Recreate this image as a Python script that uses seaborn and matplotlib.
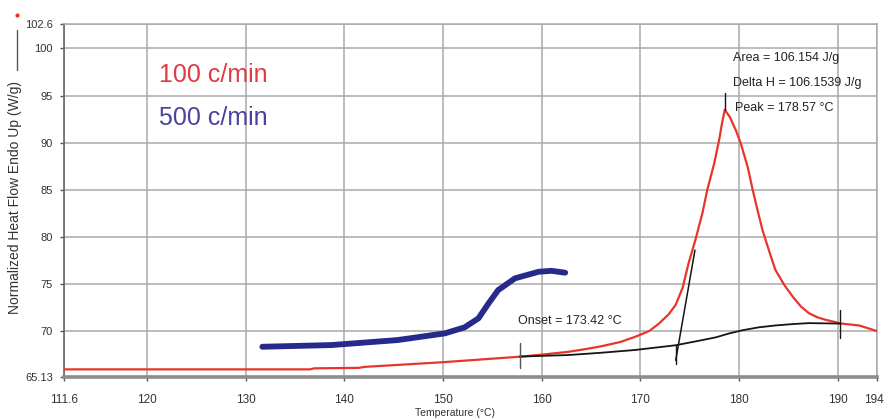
import matplotlib
matplotlib.use("Agg")
import matplotlib.pyplot as plt
from matplotlib.lines import Line2D
from matplotlib.transforms import offset_copy
import seaborn as sns
import pandas as pd

# DSC scan at 100 c/min (red)
red_temp = [111.6, 120, 130, 136.5, 137.0, 141.5, 142.0, 146, 150, 154, 158,
            160.0, 162.7, 164.5, 166.1, 168.0, 169.5, 170.9, 171.9, 172.9,
            173.6, 174.3, 174.9, 175.6, 176.3, 176.8, 177.5, 178.0, 178.3,
            178.57, 179.1, 179.7, 180.2, 180.9, 181.4, 181.9, 182.4, 183.1,
            183.7, 184.6, 185.5, 186.3, 187.1, 188.0, 188.8, 190.4, 192.2,
            194.0]
red_flow = [65.94, 65.94, 65.94, 65.94, 66.05, 66.1, 66.2, 66.45, 66.7, 67.0,
            67.3, 67.5, 67.8, 68.1, 68.4, 68.85, 69.4, 70.0, 70.8, 71.8,
            72.8, 74.6, 77.2, 79.7, 82.5, 85.0, 87.8, 90.3, 92.1,
            93.5, 92.7, 91.3, 89.9, 87.4, 85.0, 82.8, 80.7, 78.4,
            76.5, 74.9, 73.6, 72.6, 71.9, 71.45, 71.2, 70.8, 70.6,
            70.0]

# DSC scan at 500 c/min (blue)
blue_temp = [131.7, 138.7, 145.4, 150.2, 152.2, 153.6, 154.6, 155.6, 157.3,
             159.7, 161.0, 162.4]
blue_flow = [68.34, 68.52, 69.05, 69.76, 70.4, 71.35, 72.9, 74.35, 75.6,
             76.3, 76.4, 76.2]

# integration baseline under the melting peak
base_temp = [157.8, 162.7, 166.0, 169.5, 173.6, 176.3, 177.7, 179.0, 180.4,
             182.0, 183.7, 185.5, 187.1, 190.3]
base_flow = [67.3, 67.46, 67.7, 68.0, 68.5, 69.05, 69.35, 69.75, 70.1,
             70.4, 70.6, 70.75, 70.85, 70.8]

# onset tangent
tan_temp = [173.6, 175.55]
tan_flow = [66.9, 78.6]

x_ticks = [111.6, 120, 130, 140, 150, 160, 170, 180, 190, 194]
x_labels = ["111.6", "120", "130", "140", "150", "160", "170", "180", "190", "194"]
y_ticks = [65.13, 70, 75, 80, 85, 90, 95, 100, 102.6]
y_labels = ["65.13", "70", "75", "80", "85", "90", "95", "100", "102.6"]

onset = 173.42
peak = 178.57
area = 106.154
delta_h = 106.1539

sns.set_theme(style="white")
plt.rcParams["font.family"] = ["Liberation Sans", "DejaVu Sans"]
small = dict(family=["Liberation Sans", "DejaVu Sans"])

fig = plt.figure(figsize=(8.84, 4.2), dpi=100)
ax = fig.add_axes([64 / 884, 1 - 377 / 420, (877 - 64) / 884, (377 - 24) / 420])

red_df = pd.DataFrame({"T": red_temp, "Q": red_flow})
blue_df = pd.DataFrame({"T": blue_temp, "Q": blue_flow})
base_df = pd.DataFrame({"T": base_temp, "Q": base_flow})
tan_df = pd.DataFrame({"T": tan_temp, "Q": tan_flow})

sns.lineplot(data=red_df, x="T", y="Q", ax=ax, color="#e8352b", lw=1.6,
             sort=False, estimator=None, zorder=4)
sns.lineplot(data=base_df, x="T", y="Q", ax=ax, color="#151515", lw=1.3,
             sort=False, estimator=None, zorder=5)
sns.lineplot(data=tan_df, x="T", y="Q", ax=ax, color="#151515", lw=1.1,
             sort=False, estimator=None, zorder=5)
sns.lineplot(data=blue_df, x="T", y="Q", ax=ax, color="#262a8c", lw=4.2,
             sort=False, estimator=None, zorder=6)
for ln in ax.lines:
    ln.set_solid_capstyle("round")
    ln.set_solid_joinstyle("round")

# marker ticks at the integration limits and the peak
ax.plot([157.8, 157.8], [66.05, 68.7], color="#555555", lw=1.0, zorder=5)
ax.plot([173.6, 173.6], [66.5, 68.5], color="#151515", lw=1.0, zorder=5)
ax.plot([190.3, 190.3], [69.3, 72.2], color="#151515", lw=1.0, zorder=5)
ax.plot([peak, peak], [93.5, 95.3], color="#151515", lw=1.0, zorder=5)

ax.set_xlim(111.6, 194)
ax.set_ylim(65.13, 102.6)
ax.set_xticks(x_ticks)
ax.set_xticklabels(x_labels, fontsize=8.5, color="#333333", **small)
ax.set_yticks(y_ticks)
ax.set_yticklabels(y_labels, fontsize=8, color="#333333", **small)
ax.tick_params(axis="both", direction="out", length=3, width=1, colors="#555555",
               labelcolor="#333333")
ax.tick_params(axis="x", pad=9)
ax.tick_params(axis="y", pad=5)
ax.tick_params(left=True, bottom=True)
# keep the last x label inside the figure edge
last = ax.get_xticklabels()[-1]
last.set_horizontalalignment("right")
last.set_transform(offset_copy(last.get_transform(), fig=fig, x=7, units="dots"))

ax.grid(True, color="#a9a9a9", lw=1.1)
for side in ["top", "right"]:
    ax.spines[side].set_color("#a9a9a9")
    ax.spines[side].set_linewidth(1.1)
ax.spines["left"].set_color("#666666")
ax.spines["left"].set_linewidth(1.2)
ax.spines["bottom"].set_color("#8c8c8c")
ax.spines["bottom"].set_linewidth(2.6)
ax.set_xlabel("")
ax.set_ylabel("")

# rate labels
ax.text(121.2, 97.15, "100 c/min", color="#e03a44", fontsize=18, va="center",
        ha="left")
ax.text(121.2, 92.6, "500 c/min", color="#4a429c", fontsize=18, va="center",
        ha="left")

# peak annotations
ann = dict(fontsize=9, color="#222222", ha="left", va="center", **small)
ax.text(179.4, 98.95, f"Area = {area} J/g", **ann)
ax.text(179.4, 96.35, f"Delta H = {delta_h} J/g", **ann)
ax.text(179.6, 93.65, f"Peak = {peak} \u00b0C", **ann)
ax.text(157.6, 71.1, f"Onset = {onset} \u00b0C", **ann)

fig.text(455 / 884, 1 - 413 / 420, "Temperature (\u00b0C)", fontsize=7.5,
         color="#333333", ha="center", va="center", **small)
fig.text(15 / 884, 1 - 197 / 420, "Normalized Heat Flow Endo Up (W/g)",
         fontsize=10, color="#333333", rotation=90,
         ha="center", va="center", **small)
fig.add_artist(Line2D([17 / 884, 17 / 884], [1 - 70 / 420, 1 - 30 / 420],
                      transform=fig.transFigure, color="#555555", lw=1.0))
fig.add_artist(Line2D([17 / 884], [1 - 15 / 420], transform=fig.transFigure,
                      marker="o", markersize=2, color="#e8352b", lw=0))

fig.savefig("out.png", dpi=100)
